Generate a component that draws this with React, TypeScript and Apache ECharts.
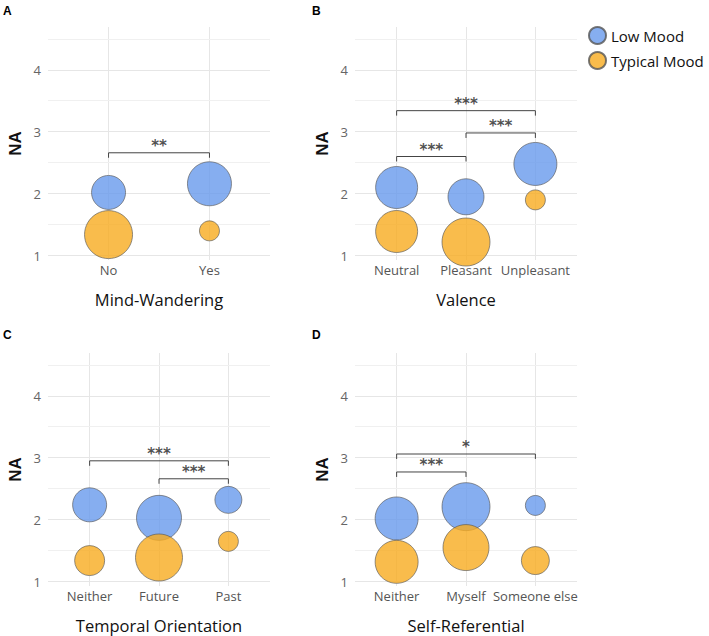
import React, { useEffect, useRef } from "react";
import * as echarts from "echarts";

// ---- data ----
const catsA = ["No", "Yes"];
const lowA = [2.02, 2.16];
const typA = [1.34, 1.4];
const lowSizeA = [17, 22];
const typSizeA = [24, 10];

const catsB = ["Neutral", "Pleasant", "Unpleasant"];
const lowB = [2.1, 1.95, 2.48];
const typB = [1.39, 1.22, 1.9];
const lowSizeB = [21, 18, 21.5];
const typSizeB = [21, 24, 10];

const catsC = ["Neither", "Future", "Past"];
const lowC = [2.24, 2.03, 2.32];
const typC = [1.34, 1.39, 1.65];
const lowSizeC = [17, 22.5, 13.5];
const typSizeC = [15, 23.5, 10];

const catsD = ["Neither", "Myself", "Someone else"];
const lowD = [2.02, 2.21, 2.23];
const typD = [1.32, 1.55, 1.34];
const lowSizeD = [21.5, 24, 10];
const typSizeD = [21.5, 23, 14];

// brackets: [fromIndex, toIndex, y, label]
const bracketsA: [number, number, number, string][] = [[0, 1, 2.66, "**"]];
const bracketsB: [number, number, number, string][] = [
  [0, 2, 3.34, "***"],
  [1, 2, 2.98, "***"],
  [0, 1, 2.6, "***"],
];
const bracketsC: [number, number, number, string][] = [
  [0, 2, 2.95, "***"],
  [1, 2, 2.66, "***"],
];
const bracketsD: [number, number, number, string][] = [
  [0, 2, 3.06, "*"],
  [0, 1, 2.77, "***"],
];

const titles = ["Mind-Wandering", "Valence", "Temporal Orientation", "Self-Referential"];
const panelLetters = ["A", "B", "C", "D"];
const yTicks = [1, 2, 3, 4];
const yMinor = [1.5, 2.5, 3.5, 4.5];
const Y_MIN = 0.93;
const Y_MAX = 4.69;
const TIP = 0.08;

const LOW_COLOR = "rgb(104,154,236)";
const TYP_COLOR = "rgb(247,171,31)";

const panels = [
  { cats: catsA, low: lowA, typ: typA, lowS: lowSizeA, typS: typSizeA, br: bracketsA },
  { cats: catsB, low: lowB, typ: typB, lowS: lowSizeB, typS: typSizeB, br: bracketsB },
  { cats: catsC, low: lowC, typ: typC, lowS: lowSizeC, typS: typSizeC, br: bracketsC },
  { cats: catsD, low: lowD, typ: typD, lowS: lowSizeD, typS: typSizeD, br: bracketsD },
];

const gridPos = [
  { left: 48, top: 27 },
  { left: 355, top: 27 },
  { left: 48, top: 353 },
  { left: 355, top: 353 },
];

export default function App() {
  const ref = useRef<HTMLDivElement>(null);
  useEffect(() => {
    if (!ref.current) return;
    const chart = echarts.init(ref.current, undefined, { renderer: "svg" });

    const grid: any[] = [];
    const xAxis: any[] = [];
    const yAxis: any[] = [];
    const series: any[] = [];

    panels.forEach((p, i) => {
      const n = p.cats.length;
      const xmin = -0.6;
      const xmax = n - 1 + 0.6;
      grid.push({ left: gridPos[i].left, top: gridPos[i].top, width: 222, height: 233, containLabel: false });
      xAxis.push({
        gridIndex: i,
        type: "value",
        min: xmin,
        max: xmax,
        axisLine: { show: false },
        axisTick: { show: false },
        splitLine: { show: false },
        axisLabel: {
          customValues: p.cats.map((_, k) => k),
          formatter: (v: number) => p.cats[Math.round(v)] ?? "",
          color: "#555",
          fontSize: 13,
          fontFamily: "Open Sans",
          margin: 3,
        },
        name: titles[i],
        nameLocation: "middle",
        nameGap: 31,
        nameTextStyle: { fontSize: 16.5, color: "#111", fontFamily: "Open Sans" },
      });
      yAxis.push({
        gridIndex: i,
        type: "value",
        min: Y_MIN,
        max: Y_MAX,
        axisLine: { show: false },
        axisTick: { show: false },
        splitLine: { show: false },
        axisLabel: {
          customValues: yTicks,
          color: "#666",
          fontSize: 13,
          fontFamily: "Open Sans",
          margin: 7,
        },
        name: "NA",
        nameLocation: "middle",
        nameGap: 24,
        nameRotate: 90,
        nameTextStyle: { fontSize: 17, fontWeight: "bold", color: "#111", fontFamily: "Liberation Sans" },
      });

      // gridlines
      const major: any[] = [];
      yTicks.forEach((y) => major.push({ coords: [[xmin, y], [xmax, y]] }));
      p.cats.forEach((_, k) => major.push({ coords: [[k, Y_MIN], [k, Y_MAX]] }));
      const minor: any[] = yMinor.map((y) => ({ coords: [[xmin, y], [xmax, y]] }));
      series.push({
        type: "lines",
        coordinateSystem: "cartesian2d",
        xAxisIndex: i,
        yAxisIndex: i,
        silent: true,
        z: 1,
        lineStyle: { color: "#e6e6e6", width: 1, opacity: 1 },
        data: major,
      });
      series.push({
        type: "lines",
        coordinateSystem: "cartesian2d",
        xAxisIndex: i,
        yAxisIndex: i,
        silent: true,
        z: 1,
        lineStyle: { color: "#f0f0f0", width: 1, opacity: 1 },
        data: minor,
      });

      // bubbles
      series.push({
        name: "Low Mood",
        type: "scatter",
        xAxisIndex: i,
        yAxisIndex: i,
        z: 3,
        data: p.low.map((v, k) => [k, v, p.lowS[k]]),
        symbolSize: (val: number[]) => val[2] * 2,
        itemStyle: { color: LOW_COLOR, opacity: 0.8, borderColor: "#555", borderWidth: 0.8 },
      });
      series.push({
        name: "Typical Mood",
        type: "scatter",
        xAxisIndex: i,
        yAxisIndex: i,
        z: 3,
        data: p.typ.map((v, k) => [k, v, p.typS[k]]),
        symbolSize: (val: number[]) => val[2] * 2,
        itemStyle: { color: TYP_COLOR, opacity: 0.8, borderColor: "#555", borderWidth: 0.8 },
      });

      // brackets
      series.push({
        type: "lines",
        coordinateSystem: "cartesian2d",
        polyline: true,
        xAxisIndex: i,
        yAxisIndex: i,
        silent: true,
        z: 4,
        lineStyle: { color: "#444", width: 1, opacity: 1 },
        data: p.br.map(([a, b, y]) => ({
          coords: [[a, y - TIP], [a, y], [b, y], [b, y - TIP]],
        })),
      });
      series.push({
        type: "scatter",
        xAxisIndex: i,
        yAxisIndex: i,
        silent: true,
        z: 4,
        symbolSize: 1,
        itemStyle: { color: "rgba(0,0,0,0)" },
        label: {
          show: true,
          position: "top",
          distance: -1,
          formatter: "{b}",
          fontSize: 15,
          fontWeight: "bold",
          color: "#222",
          fontFamily: "DejaVu Sans",
        },
        data: p.br.map(([a, b, y, s]) => ({ name: s, value: [(a + b) / 2, y] })),
      });
    });

    const graphic: any[] = panelLetters.map((t, i) => ({
      type: "text",
      left: i % 2 === 0 ? 3 : 312,
      top: i < 2 ? 5 : 329,
      style: { text: t, fontSize: 12, fontWeight: "bold", fill: "#000", fontFamily: "Liberation Sans" },
    }));

    chart.setOption({
      animation: false,
      grid,
      xAxis,
      yAxis,
      series,
      graphic,
      legend: {
        data: ["Low Mood", "Typical Mood"],
        orient: "vertical",
        left: 583,
        top: 21,
        icon: "circle",
        itemWidth: 17,
        itemHeight: 17,
        itemGap: 6,
        textStyle: { fontSize: 15, color: "#111", fontFamily: "Open Sans" },
        selectedMode: false,
      },
    });
    return () => chart.dispose();
  }, []);
  return (
    <div
      ref={ref}
      style={{ position: "fixed", left: 0, top: 0, width: 709, height: 636, background: "#fff" }}
    />
  );
}
